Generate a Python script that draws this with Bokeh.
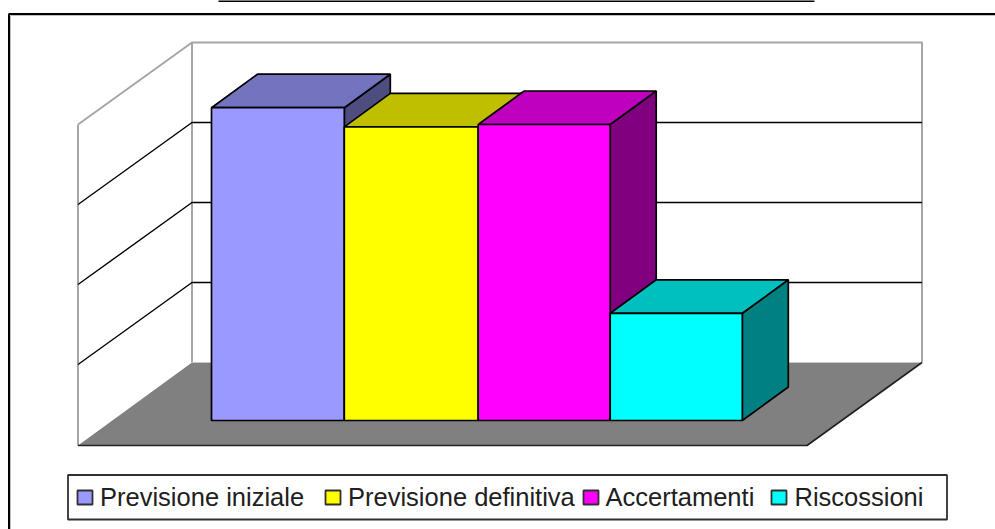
from bokeh.plotting import figure
from bokeh.models import Range1d
from bokeh.core.properties import value
from bokeh.embed import file_html
from bokeh.resources import INLINE

categories = ["Previsione iniziale", "Previsione definitiva", "Accertamenti", "Riscossioni"]
amounts = [391, 367, 370, 134]
grid_values = [100, 200, 300]
axis_max = 400
front_colors = ["#9999FF", "#FFFF00", "#FF00FF", "#00FFFF"]
top_colors = ["#7373BF", "#BFBF00", "#BF00BF", "#00BFBF"]
side_colors = ["#4D4D80", "#808000", "#800080", "#008080"]

W, H = 995, 529
PX = 0.8  # pixels per value unit
p = figure(width=W, height=H, output_backend="svg", toolbar_location=None,
           x_range=Range1d(0, W), y_range=Range1d(H, 0), min_border=0,
           background_fill_color="white", border_fill_color="white")
p.axis.visible = False
p.grid.visible = False
p.outline_line_color = None

GRAY = "#A6A6A6"
# outer frame and the cut-off rule at the very top
p.line([218, 814], [0.5, 0.5], line_color="black", line_width=2)
p.line([8.5, 8.5, W], [H, 13.5, 13.5], line_color="black", line_width=2)
p.line([10, 10], [H, 15], line_color="#C0C0C0", line_width=1)
p.line([10, W], [15, 15], line_color="#C0C0C0", line_width=1)

# walls and floor
back_l, back_r, back_base = 191.5, 921.5, 362
front_l, front_r, front_base = 77.5, 806.5, 445
ybk = lambda v: back_base - v * PX
yfr = lambda v: front_base - v * PX - 1

p.patch([front_l, front_r, back_r, back_l], [front_base, front_base, back_base, back_base],
        fill_color="#808080", line_color=None)
p.line([front_l, back_l, back_r, back_r],
       [yfr(axis_max), ybk(axis_max), ybk(axis_max), back_base], line_color=GRAY, line_width=2)
p.line([front_l, front_l], [yfr(axis_max), front_base], line_color=GRAY, line_width=2)
p.line([back_l, back_l], [ybk(axis_max), back_base], line_color=GRAY, line_width=2)
p.line([back_l, back_r], [back_base, back_base], line_color="#C8C8C8", line_width=1)
for g in grid_values:
    p.line([front_l, back_l, back_r], [yfr(g), ybk(g), ybk(g)], line_color="black", line_width=1.4)
p.line([front_l, front_r, back_r], [front_base, front_base, back_base], line_color="#202020", line_width=1.6)

# bars
bar_edges, bar_base = [211, 343.8, 477.7, 609.7, 741.8], 420
dx, dy = 46, -33.5
for i, v in enumerate(amounts):
    l, r = bar_edges[i], bar_edges[i + 1]
    t = bar_base - v * PX
    p.patch([r, r + dx, r + dx, r], [t, t + dy, bar_base + dy, bar_base],
            fill_color=side_colors[i], line_color="black", line_width=1.7)
    p.patch([l, l + dx, r + dx, r], [t, t + dy, t + dy, t],
            fill_color=top_colors[i], line_color="black", line_width=1.7)
    p.patch([l, r, r, l], [t, t, bar_base, bar_base],
            fill_color=front_colors[i], line_color="black", line_width=1.7)

# legend
p.quad(left=[67.5], right=[946.5], top=[474.5], bottom=[519], fill_color="white",
       line_color="#303030", line_width=1.8)
swatch_x = [77, 325, 583, 771]
text_x = [99.5, 347.5, 605, 794]
for i, c in enumerate(categories):
    p.quad(left=[swatch_x[i]], right=[swatch_x[i] + 15], top=[490], bottom=[504],
           fill_color=front_colors[i], line_color="#303030", line_width=1.8)
    p.text(x=[text_x[i]], y=[496], text=[c], text_font=value("Liberation Sans"),
           text_font_size="25.5px", text_color="#202020",
           text_baseline="middle", text_align="left")

open("out.html", "w").write(file_html(p, INLINE))
